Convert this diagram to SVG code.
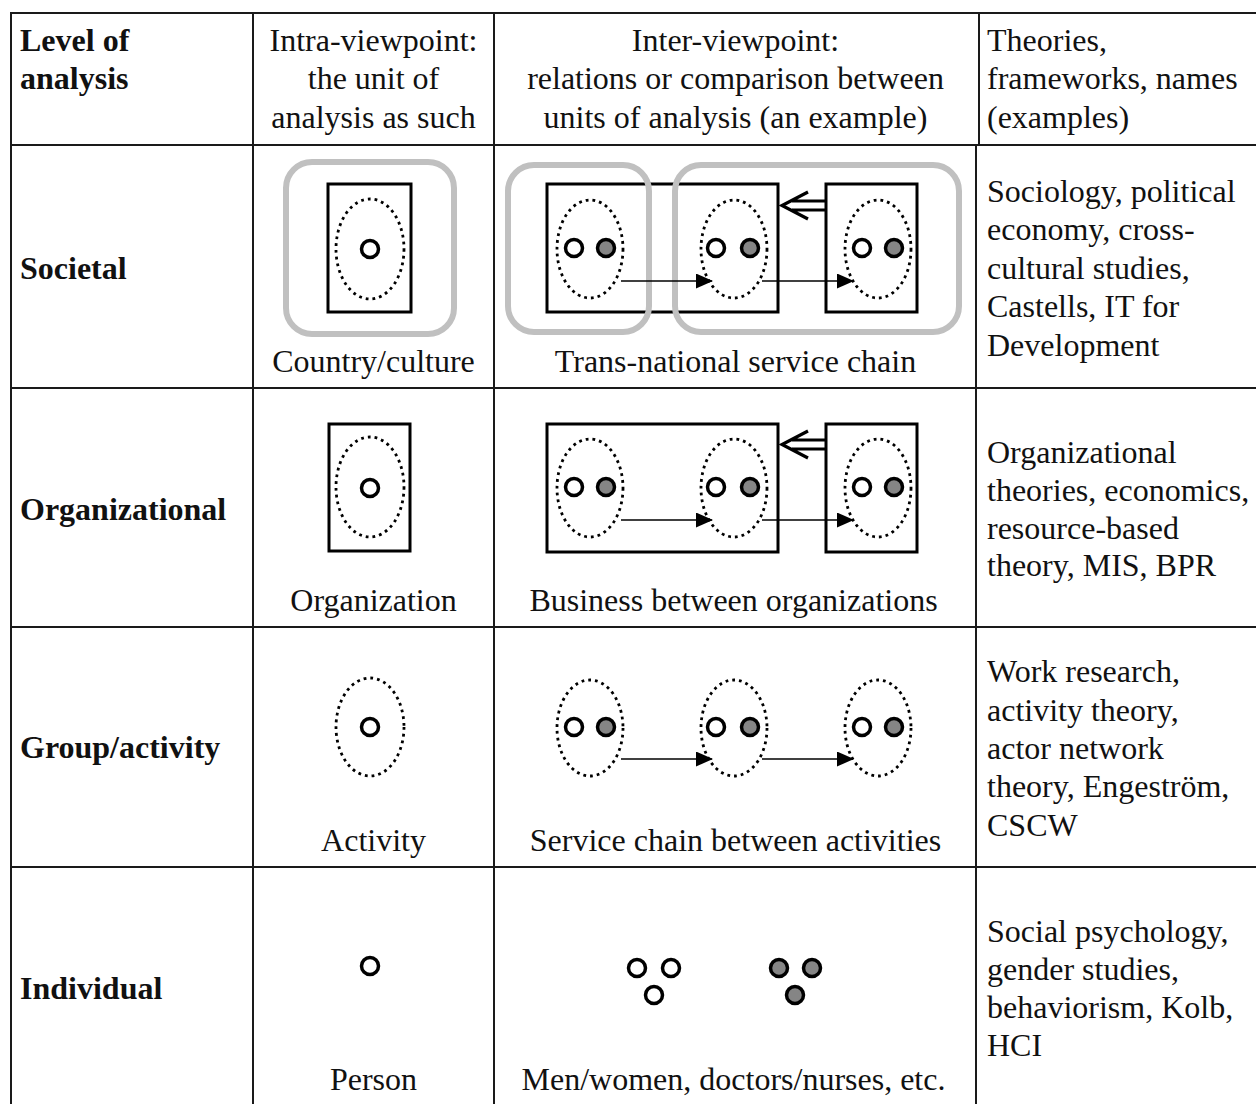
<svg xmlns="http://www.w3.org/2000/svg" width="1256" height="1104" viewBox="0 0 1256 1104">
  <style>
    text { font-family: "Liberation Serif", "Times New Roman", serif; font-size: 32px; fill: #111; }
    .b { font-weight: bold; }
    .c { text-anchor: middle; }
    .grid { stroke: #1a1a1a; stroke-width: 2; fill: none; }
    .box { stroke: #000; stroke-width: 3; fill: none; }
    .zone { stroke: #c0c0c0; stroke-width: 6; fill: none; }
    .dots { stroke: #000; stroke-width: 2.8; stroke-dasharray: 2.8 4; fill: none; }
    .p { stroke: #000; stroke-width: 3.5; fill: #fff; }
    .q { stroke: #000; stroke-width: 3.5; fill: #858585; }
    .flow { stroke: #000; stroke-width: 1.6; fill: none; marker-end: url(#tri); }
    .ret { stroke: #000; stroke-width: 3.2; fill: none; }
  </style>
  <defs>
    <marker id="tri" viewBox="0 0 17 15" refX="16" refY="7.5" markerWidth="17" markerHeight="15" markerUnits="userSpaceOnUse" orient="auto">
      <path d="M0,0 L17,7.5 L0,15 z" fill="#000"/>
    </marker>
  </defs>

  <rect width="1256" height="1104" fill="#fff"/>

  <!-- table rules -->
  <g id="grid" class="grid">
    <line x1="10" y1="13" x2="1256" y2="13"/>
    <line x1="11" y1="12" x2="11" y2="1104"/>
    <line x1="253" y1="12" x2="253" y2="1104"/>
    <line x1="494" y1="12" x2="494" y2="1104"/>
    <line x1="979" y1="12" x2="979" y2="145"/>
    <line x1="976" y1="145" x2="976" y2="1104"/>
    <line x1="10" y1="145" x2="1256" y2="145"/>
    <line x1="10" y1="388" x2="1256" y2="388"/>
    <line x1="10" y1="627" x2="1256" y2="627"/>
    <line x1="10" y1="867" x2="1256" y2="867"/>
  </g>

  <!-- header row -->
  <g id="head-level">
    <text class="b" x="20" y="51">Level of</text>
    <text class="b" x="20" y="89">analysis</text>
  </g>
  <g id="head-intra">
    <text class="c" x="373.5" y="51">Intra-viewpoint:</text>
    <text class="c" x="373.5" y="89">the unit of</text>
    <text class="c" x="373.5" y="128">analysis as such</text>
  </g>
  <g id="head-inter">
    <text class="c" x="735.5" y="51">Inter-viewpoint:</text>
    <text class="c" x="735.5" y="89">relations or comparison between</text>
    <text class="c" x="735.5" y="128">units of analysis (an example)</text>
  </g>
  <g id="head-theories">
    <text x="987" y="51">Theories,</text>
    <text x="987" y="89">frameworks, names</text>
    <text x="987" y="128">(examples)</text>
  </g>

  <!-- row labels -->
  <g id="label-societal"><text class="b" x="20" y="279">Societal</text></g>
  <g id="label-organizational"><text class="b" x="20" y="520">Organizational</text></g>
  <g id="label-group"><text class="b" x="20" y="758">Group/activity</text></g>
  <g id="label-individual"><text class="b" x="20" y="999">Individual</text></g>

  <!-- societal: single unit -->
  <g id="societal-intra">
    <rect class="box" x="328" y="184" width="83" height="128"/>
    <rect class="zone" x="286" y="162" width="168" height="172" rx="26"/>
    <ellipse class="dots" cx="370" cy="249" rx="34" ry="50"/>
    <circle class="p" cx="370" cy="249" r="8.5"/>
    <text class="c" x="373.5" y="372">Country/culture</text>
  </g>

  <!-- societal: chain of units -->
  <g id="societal-inter">
    <rect class="box" x="547" y="184" width="231" height="128"/>
    <rect class="box" x="826" y="184" width="91" height="128"/>
    <rect class="zone" x="508" y="165" width="141" height="167" rx="26"/>
    <rect class="zone" x="675" y="165" width="284" height="167" rx="26"/>
    <ellipse class="dots" cx="590" cy="249" rx="33" ry="49"/>
    <ellipse class="dots" cx="734" cy="249" rx="33" ry="49"/>
    <ellipse class="dots" cx="878" cy="249" rx="33" ry="49"/>
    <circle class="p" cx="574" cy="248" r="8.5"/>
    <circle class="q" cx="606" cy="248" r="8.5"/>
    <circle class="p" cx="716" cy="248" r="8.5"/>
    <circle class="q" cx="750" cy="248" r="8.5"/>
    <circle class="p" cx="862" cy="248" r="8.5"/>
    <circle class="q" cx="894" cy="248" r="8.5"/>
    <text class="c" x="735.5" y="372">Trans-national service chain</text>
  </g>

  <!-- organizational: single unit -->
  <g id="organizational-intra">
    <rect class="box" x="329" y="424" width="81" height="127"/>
    <ellipse class="dots" cx="370" cy="487" rx="34" ry="50"/>
    <circle class="p" cx="370" cy="488" r="8.5"/>
    <text class="c" x="373.5" y="611">Organization</text>
  </g>

  <!-- organizational: business between organizations -->
  <g id="organizational-inter">
    <rect class="box" x="547" y="424" width="231" height="128"/>
    <rect class="box" x="826" y="424" width="91" height="128"/>
    <ellipse class="dots" cx="590" cy="488" rx="33" ry="49"/>
    <ellipse class="dots" cx="734" cy="488" rx="33" ry="49"/>
    <ellipse class="dots" cx="878" cy="488" rx="33" ry="49"/>
    <circle class="p" cx="574" cy="487" r="8.5"/>
    <circle class="q" cx="606" cy="487" r="8.5"/>
    <circle class="p" cx="716" cy="487" r="8.5"/>
    <circle class="q" cx="750" cy="487" r="8.5"/>
    <circle class="p" cx="862" cy="487" r="8.5"/>
    <circle class="q" cx="894" cy="487" r="8.5"/>
    <text class="c" x="733.5" y="611">Business between organizations</text>
  </g>

  <!-- group: single activity -->
  <g id="group-intra">
    <ellipse class="dots" cx="370" cy="727" rx="34" ry="49"/>
    <circle class="p" cx="370" cy="727" r="8.5"/>
    <text class="c" x="373.5" y="851">Activity</text>
  </g>

  <!-- group: service chain between activities -->
  <g id="group-inter">
    <ellipse class="dots" cx="590" cy="728" rx="33" ry="48"/>
    <ellipse class="dots" cx="734" cy="728" rx="33" ry="48"/>
    <ellipse class="dots" cx="878" cy="728" rx="33" ry="48"/>
    <circle class="p" cx="574" cy="727" r="8.5"/>
    <circle class="q" cx="606" cy="727" r="8.5"/>
    <circle class="p" cx="716" cy="727" r="8.5"/>
    <circle class="q" cx="750" cy="727" r="8.5"/>
    <circle class="p" cx="862" cy="727" r="8.5"/>
    <circle class="q" cx="894" cy="727" r="8.5"/>
    <text class="c" x="735.5" y="851">Service chain between activities</text>
  </g>

  <!-- individual -->
  <g id="individual-intra">
    <circle class="p" cx="370" cy="966" r="8.5"/>
    <text class="c" x="373.5" y="1090">Person</text>
  </g>
  <g id="individual-inter">
    <circle class="p" cx="637" cy="968" r="8.5"/>
    <circle class="p" cx="671" cy="968" r="8.5"/>
    <circle class="p" cx="654" cy="995" r="8.5"/>
    <circle class="q" cx="779" cy="968" r="8.5"/>
    <circle class="q" cx="812" cy="968" r="8.5"/>
    <circle class="q" cx="795" cy="995" r="8.5"/>
    <text class="c" x="733.5" y="1090">Men/women, doctors/nurses, etc.</text>
  </g>

  <!-- theory columns -->
  <g id="theories-societal">
    <text x="987" y="202">Sociology, political</text>
    <text x="987" y="240">economy, cross-</text>
    <text x="987" y="279">cultural studies,</text>
    <text x="987" y="317">Castells, IT for</text>
    <text x="987" y="356">Development</text>
  </g>
  <g id="theories-organizational">
    <text x="987" y="463">Organizational</text>
    <text x="987" y="501">theories, economics,</text>
    <text x="987" y="539">resource-based</text>
    <text x="987" y="576">theory, MIS, BPR</text>
  </g>
  <g id="theories-group">
    <text x="987" y="682">Work research,</text>
    <text x="987" y="721">activity theory,</text>
    <text x="987" y="759">actor network</text>
    <text x="987" y="797">theory, Engeström,</text>
    <text x="987" y="836">CSCW</text>
  </g>
  <g id="theories-individual">
    <text x="987" y="942">Social psychology,</text>
    <text x="987" y="980">gender studies,</text>
    <text x="987" y="1018">behaviorism, Kolb,</text>
    <text x="987" y="1056">HCI</text>
  </g>

  <!-- connectors: service flows and return arrows -->
  <g id="connectors">
    <line class="flow" x1="621" y1="281" x2="712" y2="281"/>
    <line class="flow" x1="762" y1="281" x2="853" y2="281"/>
    <line class="flow" x1="621" y1="520" x2="712" y2="520"/>
    <line class="flow" x1="762" y1="520" x2="853" y2="520"/>
    <line class="flow" x1="621" y1="759" x2="712" y2="759"/>
    <line class="flow" x1="762" y1="759" x2="853" y2="759"/>
    <path class="ret" d="M826,201 H792 M826,210 H792 M808,192 L782,205.5 L808,219"/>
    <path class="ret" d="M826,440 H792 M826,449 H792 M808,431 L782,444.5 L808,458"/>
  </g>
</svg>
